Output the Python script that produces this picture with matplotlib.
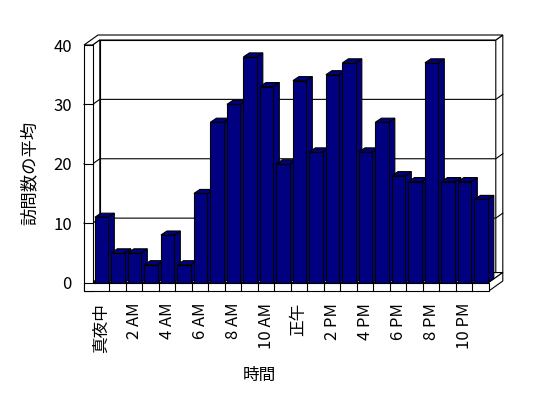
import matplotlib
matplotlib.use("Agg")
import matplotlib.pyplot as plt
from matplotlib.patches import Polygon, Rectangle

plt.rcParams['font.family'] = ['Noto Sans CJK JP', 'DejaVu Sans']

categories = ['真夜中', '1 AM', '2 AM', '3 AM', '4 AM', '5 AM', '6 AM', '7 AM',
              '8 AM', '9 AM', '10 AM', '11 AM', '正午', '1 PM', '2 PM', '3 PM',
              '4 PM', '5 PM', '6 PM', '7 PM', '8 PM', '9 PM', '10 PM', '11 PM']
values = [11, 5, 5, 3, 8, 3, 15, 27, 30, 38, 33, 20,
          34, 22, 35, 37, 22, 27, 18, 17, 37, 17, 17, 14]
y_ticks = [0, 10, 20, 30, 40]
x_label = '時間'
y_label = '訪問数の平均'

W, H = 548, 398
fig = plt.figure(figsize=(W / 100, H / 100), dpi=100)
fig.patch.set_facecolor('white')

# front plane of the plot box, in pixels
left_px, right_px = 92.8, 488.8
bot_px, top_px = 282.5, 45.0
ax = fig.add_axes([left_px / W, (H - bot_px) / H,
                   (right_px - left_px) / W, (bot_px - top_px) / H])
n = len(values)
ymax = 40
ax.set_xlim(0, n)
ax.set_ylim(0, ymax)
ax.patch.set_visible(False)
for s in ax.spines.values():
    s.set_visible(False)

sx = (right_px - left_px) / n       # px per category
sy = (bot_px - top_px) / ymax       # px per unit
# depth vectors (data units)
Dx, Dy = 7.0 / sx, 5.0 / sy         # wall depth
bx, by = 6.0 / sx, 4.0 / sy         # bar depth
T = 8.8 / sx                        # side wall thickness
F = 8.5 / sy                        # floor thickness
lw = 0.8
ec = 'black'

def poly(pts, z, fc='white'):
    p = Polygon(pts, closed=True, facecolor=fc, edgecolor=ec, lw=lw,
                zorder=z, clip_on=False, joinstyle='miter')
    ax.add_patch(p)

# back wall inner face
poly([(Dx, Dy), (n + Dx, Dy), (n + Dx, ymax + Dy), (Dx, ymax + Dy)], 1)
# back wall right (thickness) face
poly([(n + Dx, Dy), (n + 2 * Dx, 2 * Dy), (n + 2 * Dx, ymax + 2 * Dy),
      (n + Dx, ymax + Dy)], 1)
# top of walls
poly([(-T, ymax), (0, ymax), (Dx, ymax + Dy), (n + Dx, ymax + Dy),
      (n + 2 * Dx, ymax + 2 * Dy), (-T + 2 * Dx, ymax + 2 * Dy)], 1)
# side wall inner face
poly([(0, 0), (Dx, Dy), (Dx, ymax + Dy), (0, ymax)], 1)

# gridlines
for v in y_ticks[1:-1]:
    ax.plot([-T, 0, Dx, n + Dx, n + 2 * Dx],
            [v, v, v + Dy, v + Dy, v + 2 * Dy],
            color=ec, lw=lw, zorder=2, clip_on=False)

# floor top and right face
poly([(0, 0), (n, 0), (n + 2 * Dx, 2 * Dy), (Dx, Dy)], 3)
poly([(n, -F), (n + 2 * Dx, -F + 2 * Dy), (n + 2 * Dx, 2 * Dy), (n, 0)], 3)

# bars
x0s = [i + 0.13 for i in range(n)]
bw = 0.81
for i, v in enumerate(values):
    x0 = x0s[i]
    x1 = x0 + bw
    z = 10 + i * 0.1
    poly([(x1, 0), (x1 + bx, by), (x1 + bx, v + by), (x1, v)], z, '#000080')
    poly([(x0, v), (x1, v), (x1 + bx, v + by), (x0 + bx, v + by)], z, '#000080')
bars = ax.bar(x0s, values, width=bw, align='edge', color='#000080',
              edgecolor=ec, linewidth=lw)
for i, b in enumerate(bars):
    b.set_zorder(10 + i * 0.1 + 0.05)
    b.set_clip_on(False)

# side wall front face and floor front face
poly([(-T, -F), (0, -F), (0, ymax), (-T, ymax)], 20)
poly([(-T, -F), (n, -F), (n, 0), (-T, 0)], 20)
for i in range(1, n):
    ax.plot([i, i], [-F, 0], color=ec, lw=lw, zorder=21, clip_on=False)
for v in y_ticks[1:-1]:
    ax.plot([-T, 0], [v, v], color=ec, lw=lw, zorder=21, clip_on=False)

# ticks
ax.set_yticks(y_ticks)
ax.set_yticklabels([str(v) for v in y_ticks], fontsize=12)
ax.tick_params(axis='y', length=0, pad=15.0)
xt = list(range(0, n, 2))
ax.set_xticks([i + 0.5 for i in xt])
ax.set_xticklabels([categories[i] for i in xt], rotation=90, fontsize=12,
                   ha='center', va='top')
ax.tick_params(axis='x', length=0, pad=14.5)

fig.text(30 / W, 1 - 173 / H, y_label, rotation=90, ha='center', va='center',
         fontsize=12.5)
fig.text(259 / W, 1 - 375 / H, x_label, ha='center', va='center', fontsize=12)

fig.savefig('out.png', dpi=100, facecolor='white')
